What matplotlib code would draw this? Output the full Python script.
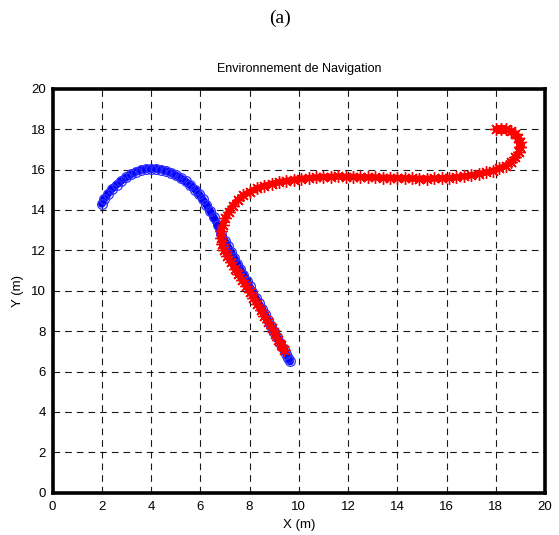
import matplotlib
matplotlib.use('Agg')
import matplotlib.pyplot as plt

# robot trajectory (blue circles)
blue_x = [2.00, 2.10, 2.25, 2.40, 2.60, 2.80, 3.00, 3.20, 3.40, 3.60, 3.80, 4.00,
          4.20, 4.40, 4.60, 4.80, 5.00, 5.20, 5.40, 5.60, 5.80, 5.95, 6.10, 6.25,
          6.40, 6.55, 6.70, 6.85, 7.00, 7.12, 7.25, 7.38, 7.50, 7.62, 7.75, 7.88,
          8.00, 8.12, 8.25, 8.38, 8.50, 8.62, 8.75, 8.88, 9.00, 9.12, 9.25, 9.38,
          9.50, 9.58, 9.65]
blue_y = [14.30, 14.55, 14.80, 15.02, 15.25, 15.45, 15.62, 15.77, 15.89, 15.98, 16.03, 16.05,
          16.04, 16.00, 15.93, 15.84, 15.72, 15.58, 15.42, 15.22, 15.00, 14.78, 14.52, 14.25,
          13.95, 13.63, 13.25, 12.80, 12.47, 12.20, 11.91, 11.62, 11.35, 11.08, 10.80, 10.50,
          10.22, 9.95, 9.66, 9.37, 9.10, 8.83, 8.54, 8.25, 7.97, 7.70, 7.42, 7.12,
          6.85, 6.66, 6.50]

# target trajectory (red stars)
red_x = [18.00, 18.20, 18.40, 18.60, 18.78, 18.92, 19.00, 19.00, 18.93, 18.80, 18.62, 18.40,
         18.15, 17.90, 17.60, 17.30, 17.00, 16.70, 16.40, 16.10, 15.80, 15.50, 15.20, 14.90,
         14.60, 14.30, 14.00, 13.70, 13.40, 13.10, 12.80, 12.50, 12.20, 11.90, 11.60, 11.30,
         11.00, 10.70, 10.40, 10.10, 9.80, 9.50, 9.20, 8.90, 8.60, 8.30, 8.00, 7.75,
         7.52, 7.32, 7.15, 7.02, 6.92, 6.85, 6.83, 6.88, 6.97, 7.10, 7.25, 7.40,
         7.55, 7.70, 7.85, 8.00, 8.15, 8.30, 8.45, 8.60, 8.75, 8.90, 9.05, 9.17,
         9.29, 9.38]
red_y = [18.00, 18.02, 18.00, 17.92, 17.78, 17.58, 17.35, 17.10, 16.85, 16.60, 16.38, 16.20,
         16.06, 15.95, 15.86, 15.78, 15.72, 15.66, 15.62, 15.59, 15.57, 15.56, 15.55, 15.55,
         15.56, 15.57, 15.58, 15.59, 15.60, 15.61, 15.62, 15.63, 15.64, 15.65, 15.66, 15.65,
         15.63, 15.61, 15.58, 15.55, 15.50, 15.45, 15.38, 15.30, 15.20, 15.07, 14.90, 14.72,
         14.50, 14.22, 13.92, 13.60, 13.28, 12.95, 12.62, 12.30, 12.00, 11.70, 11.40, 11.10,
         10.82, 10.53, 10.24, 9.95, 9.66, 9.36, 9.06, 8.76, 8.46, 8.16, 7.86, 7.58,
         7.30, 7.05]

ticks = list(range(0, 21, 2))

plt.rcParams['font.family'] = ['Liberation Sans', 'DejaVu Sans']

fig = plt.figure(figsize=(5.59, 5.35), dpi=100)
ax = fig.add_axes([0.094, 0.079, 0.881, 0.755])

# dense markers in the original merge into a band: thick line under the markers
ax.plot(blue_x, blue_y, color='blue', linewidth=5.5, solid_capstyle='round', zorder=3)
ax.plot(blue_x, blue_y, linestyle='none', marker='o', markersize=7,
        markerfacecolor='none', markeredgecolor='#3030ff', markeredgewidth=0.9, zorder=3)
ax.plot(red_x, red_y, color='red', linewidth=4.5, solid_capstyle='round', zorder=4)
ax.plot(red_x, red_y, linestyle='none', marker=(8, 2, 0), markersize=9,
        markeredgecolor='red', markeredgewidth=1.0, zorder=4)

ax.set_xlim(0, 20)
ax.set_ylim(0, 20)
ax.set_xticks(ticks)
ax.set_yticks(ticks)
ax.grid(True, color='black', linestyle=(0, (6, 4.5)), linewidth=0.8, alpha=0.9)
ax.set_axisbelow(True)
ax.tick_params(direction='in', length=0, labelsize=9.5)
ax.tick_params(axis='x', pad=6)
ax.tick_params(axis='y', pad=5)
for s in ax.spines.values():
    s.set_linewidth(2.6)
    s.set_color('black')

ax.set_title('Environnement de Navigation', fontsize=9, pad=12)
ax.set_xlabel('X (m)', fontsize=9.5, labelpad=4)
ax.set_ylabel('Y (m)', fontsize=9.5, labelpad=5)

fig.text(0.5, 0.966, '(a)', ha='center', va='center', fontsize=14,
         family=['Liberation Serif', 'DejaVu Serif'])

fig.savefig('out.png', dpi=100)
